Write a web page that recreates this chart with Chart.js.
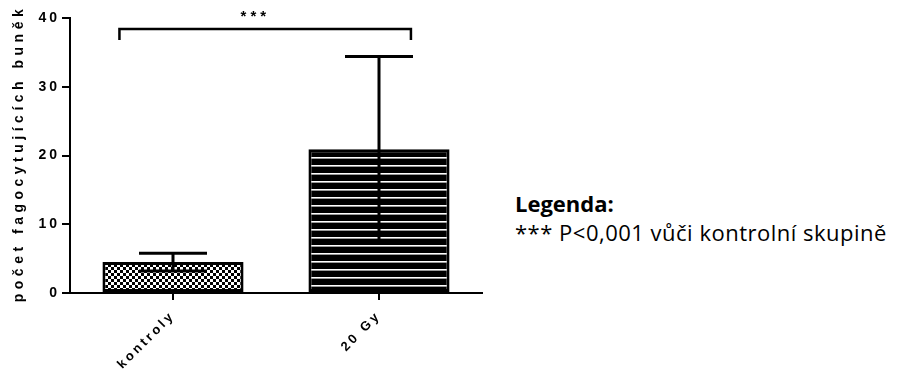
<!DOCTYPE html>
<html>
<head>
<meta charset="utf-8">
<script src="https://cdn.jsdelivr.net/npm/chart.js@4"></script>
<style>
  body { margin: 0; background: #fff; }
  .wrap { position: relative; width: 897px; height: 375px; }
  .graf { position: absolute; left: 0; top: 0; width: 500px; height: 375px; }
  .legenda { position: absolute; left: 515px; top: 189px; font-family: "Open Sans", sans-serif; font-size: 22px; line-height: 29px; color: #000; white-space: nowrap; }
  .legenda b { font-weight: 700; }
  .legenda span { letter-spacing: 0.5px; }
</style>
</head>
<body>
<div class="wrap">
  <div class="graf"><canvas id="grafFagocytoza"></canvas></div>
  <div class="legenda" id="legenda"><b>Legenda:</b><br><span>*** P&lt;0,001 vůči kontrolní skupině</span></div>
</div>
<script>
// data
const skupiny = ['kontroly', '20 Gy'];
const prumery = [4.5, 20.9];
const odchylky = [1.3, 13.5];
const yTicks = [0, 10, 20, 30, 40];
const yNazev = 'počet fagocytujících buněk';

// vyznamnost (zavorka nad sloupci)
const hvezdicky = '***';
const zavorkaY = 38.4;
const zavorkaKonecY = 36.8;
const zavorkaOd = -0.26;
const zavorkaDo = 1.155;

const pismo = '"Liberation Sans", Arial, sans-serif';

function vzorSachovnice() {
    const c = document.createElement('canvas');
    c.width = 6; c.height = 6;
    const x = c.getContext('2d');
    x.fillStyle = '#fff';
    x.fillRect(0, 0, 6, 6);
    x.fillStyle = '#000';
    x.fillRect(0, 0, 3, 3);
    x.fillRect(3, 3, 3, 3);
    return x.createPattern(c, 'repeat');
}

function vzorPruhy() {
    const c = document.createElement('canvas');
    c.width = 8; c.height = 8;
    const x = c.getContext('2d');
    x.fillStyle = '#000';
    x.fillRect(0, 0, 8, 8);
    x.fillStyle = '#fff';
    x.fillRect(0, 5, 8, 1);
    x.fillStyle = '#999';
    x.fillRect(0, 6, 8, 1);
    return x.createPattern(c, 'repeat');
}

// rozestup pismen jako v originale
const rozestup = {
    id: 'rozestup',
    beforeDraw(chart) {
        chart.ctx.letterSpacing = '3px';
    }
};

const chybyAZavorka = {
    id: 'chybyAZavorka',
    afterDatasetsDraw(chart) {
        const ctx = chart.ctx;
        const sx = chart.scales.x;
        const sy = chart.scales.y;
        ctx.save();
        ctx.strokeStyle = '#000';
        ctx.lineWidth = 3;
        prumery.forEach((m, i) => {
            const cx = sx.getPixelForValue(i);
            const yHi = sy.getPixelForValue(m + odchylky[i]);
            const yLo = sy.getPixelForValue(m - odchylky[i]);
            const w = 34;
            ctx.beginPath();
            ctx.moveTo(cx, yHi);
            ctx.lineTo(cx, yLo);
            ctx.moveTo(cx - w, yHi);
            ctx.lineTo(cx + w, yHi);
            ctx.moveTo(cx - w, yLo);
            ctx.lineTo(cx + w, yLo);
            ctx.stroke();
        });
        // zavorka
        const x1 = sx.getPixelForValue(zavorkaOd);
        const x2 = sx.getPixelForValue(zavorkaDo);
        const yb = sy.getPixelForValue(zavorkaY);
        const ye = sy.getPixelForValue(zavorkaKonecY);
        ctx.lineWidth = 2.5;
        ctx.beginPath();
        ctx.moveTo(x1, ye);
        ctx.lineTo(x1, yb);
        ctx.lineTo(x2, yb);
        ctx.lineTo(x2, ye);
        ctx.stroke();
        ctx.letterSpacing = '4px';
        ctx.fillStyle = '#000';
        ctx.font = 'bold 15px ' + pismo;
        ctx.textAlign = 'center';
        ctx.textBaseline = 'middle';
        ctx.fillText(hvezdicky, sx.getPixelForValue(0.39) + 2, sy.getPixelForValue(40.2));
        ctx.restore();
    },
    afterDraw(chart) {
        // nazev osy y s vetsim rozestupem
        const ctx = chart.ctx;
        const sy = chart.scales.y;
        ctx.save();
        ctx.letterSpacing = '4.5px';
        ctx.font = 'bold 14px ' + pismo;
        ctx.fillStyle = '#000';
        ctx.textAlign = 'center';
        ctx.textBaseline = 'middle';
        ctx.translate(19, (sy.top + sy.bottom) / 2);
        ctx.rotate(-Math.PI / 2);
        ctx.fillText(yNazev, 2, 0);
        ctx.restore();
    }
};

const config = {
    type: 'bar',
    data: {
        labels: skupiny,
        datasets: [{
            data: prumery,
            backgroundColor: [vzorSachovnice(), vzorPruhy()],
            borderColor: '#000',
            borderWidth: 3,
            borderSkipped: false,
            barPercentage: 1,
            categoryPercentage: 0.685
        }]
    },
    options: {
        responsive: true,
        maintainAspectRatio: false,
        animation: false,
        layout: { padding: { top: 18, right: 18, left: 0, bottom: 0 } },
        plugins: { legend: { display: false }, tooltip: { enabled: false } },
        scales: {
            x: {
                offset: true,
                grid: { display: true, drawOnChartArea: false, color: '#000', lineWidth: 2, tickLength: 7, offset: false },
                border: { display: true, color: '#000', width: 2 },
                ticks: {
                    color: '#000',
                    maxRotation: 45,
                    minRotation: 45,
                    padding: 8,
                    font: { family: pismo, size: 13, weight: 'bold' }
                },
                afterFit(scale) { scale.height = 82; }
            },
            y: {
                min: 0,
                max: 40,
                afterBuildTicks(scale) { scale.ticks = yTicks.map(v => ({ value: v })); },
                grid: { display: true, drawOnChartArea: false, color: '#000', lineWidth: 2, tickLength: 8 },
                border: { display: true, color: '#000', width: 2 },
                ticks: {
                    color: '#000',
                    padding: 2,
                    font: { family: pismo, size: 14, weight: 'bold' }
                },
                afterFit(scale) { scale.width = 70; }
            }
        }
    },
    plugins: [rozestup, chybyAZavorka]
};

new Chart(document.getElementById('grafFagocytoza'), config);
</script>
</body>
</html>
